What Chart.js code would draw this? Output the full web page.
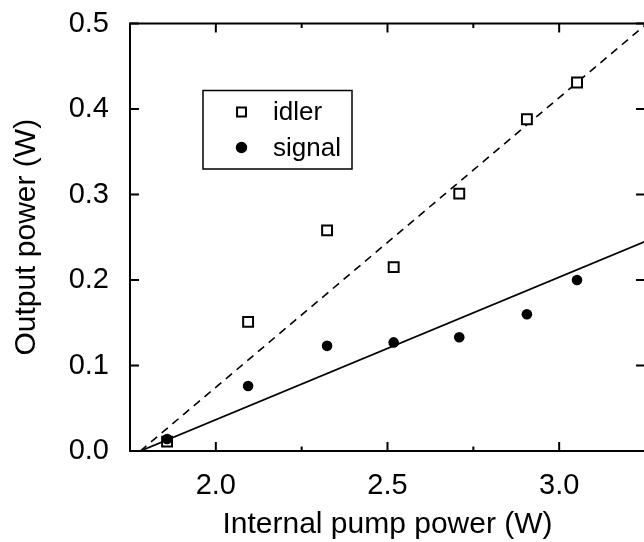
<!DOCTYPE html>
<html>
<head>
<meta charset="utf-8">
<script src="https://cdn.jsdelivr.net/npm/chart.js@4/dist/chart.umd.min.js"></script>
<style>
  html, body { margin: 0; padding: 0; background: #fff; width: 644px; height: 542px; overflow: hidden; }
  #wrap { width: 654px; height: 542px; }
</style>
</head>
<body>
<div id="wrap"><canvas id="pumpChart" width="654" height="542"></canvas></div>
<script>
  // measured points
  const pumpPower = [1.858, 2.094, 2.324, 2.518, 2.709, 2.906, 3.052];
  const idlerPower = [0.011, 0.151, 0.258, 0.215, 0.301, 0.388, 0.431];
  const signalPower = [0.014, 0.076, 0.123, 0.127, 0.133, 0.160, 0.200];

  // linear fits (end points)
  const fitX = [1.78, 3.25];
  const idlerFit = [0, 0.498];
  const signalFit = [0, 0.245];

  const xRange = [1.75, 3.25];
  const yRange = [0, 0.5];

  const FONT = "'Liberation Sans', Arial, Helvetica, sans-serif";
  const toXY = (xs, ys) => xs.map((x, i) => ({ x: x, y: ys[i] }));

  // no extra room for the end labels, the frame sits where it is told
  const noPad = scale => {
    scale.paddingTop = 0; scale.paddingBottom = 0;
    scale.paddingLeft = 0; scale.paddingRight = 0;
  };

  // box frame + inward ticks on all four sides
  const frameTicks = {
    id: "frameTicks",
    afterDraw(chart) {
      const { ctx, chartArea: a, scales } = chart;
      ctx.save();
      ctx.strokeStyle = "#000";
      ctx.lineWidth = 2;
      ctx.strokeRect(a.left, a.top, a.right - a.left, a.bottom - a.top);
      ctx.beginPath();
      scales.x.ticks.forEach(t => {
        const px = scales.x.getPixelForValue(t.value);
        const major = Math.abs(t.value * 2 - Math.round(t.value * 2)) < 1e-6;
        const len = major ? 9 : 4.5;
        ctx.moveTo(px, a.bottom); ctx.lineTo(px, a.bottom - len);
        ctx.moveTo(px, a.top); ctx.lineTo(px, a.top + len);
      });
      scales.y.ticks.forEach(t => {
        const py = scales.y.getPixelForValue(t.value);
        ctx.moveTo(a.left, py); ctx.lineTo(a.left + 9, py);
        ctx.moveTo(a.right, py); ctx.lineTo(a.right - 9, py);
      });
      ctx.stroke();
      ctx.restore();
    }
  };

  // boxed legend inside the plot
  const boxLegend = {
    id: "boxLegend",
    afterDraw(chart) {
      const { ctx, chartArea: a } = chart;
      const x0 = a.left + 73, y0 = a.top + 67;
      ctx.save();
      ctx.strokeStyle = "#000";
      ctx.lineWidth = 1.5;
      ctx.strokeRect(x0, y0, 149, 78.5);
      const items = chart.data.datasets.filter(d => d.inLegend);
      items.forEach((d, i) => {
        const cy = y0 + 21.5 + i * 35.5;
        ctx.fillStyle = d.backgroundColor;
        ctx.strokeStyle = d.borderColor;
        ctx.lineWidth = d.pointBorderWidth || 1.5;
        Chart.helpers.drawPoint(ctx, {
          pointStyle: d.pointStyle,
          radius: d.legendRadius,
          borderWidth: d.pointBorderWidth || 1.5
        }, x0 + 38.5, cy);
        ctx.fillStyle = "#000";
        ctx.font = "26px " + FONT;
        ctx.textAlign = "left";
        ctx.textBaseline = "middle";
        ctx.fillText(d.label, x0 + 70, cy + 1);
      });
      ctx.restore();
    }
  };

  new Chart(document.getElementById("pumpChart").getContext("2d"), {
    type: "scatter",
    data: {
      datasets: [
        {
          label: "idler",
          inLegend: true,
          data: toXY(pumpPower, idlerPower),
          pointStyle: "rect",
          pointRadius: 7,
          legendRadius: 6.3,
          pointBorderWidth: 2,
          backgroundColor: "#fff",
          borderColor: "#000",
          order: 1
        },
        {
          label: "signal",
          inLegend: true,
          data: toXY(pumpPower, signalPower),
          pointStyle: "circle",
          pointRadius: 5.3,
          legendRadius: 5,
          pointBorderWidth: 0,
          backgroundColor: "#000",
          borderColor: "#000",
          order: 0
        },
        {
          label: "idler fit",
          data: toXY(fitX, idlerFit),
          showLine: true,
          borderColor: "#000",
          borderWidth: 1.6,
          borderDash: [8, 6],
          pointRadius: 0,
          order: 2
        },
        {
          label: "signal fit",
          data: toXY(fitX, signalFit),
          showLine: true,
          borderColor: "#000",
          borderWidth: 1.8,
          pointRadius: 0,
          order: 2
        }
      ]
    },
    options: {
      responsive: false,
      animation: false,
      devicePixelRatio: 1,
      layout: { padding: { top: 23.5, right: 1, bottom: 0, left: 0 } },
      plugins: {
        legend: { display: false },
        tooltip: { enabled: false }
      },
      scales: {
        x: {
          type: "linear",
          min: xRange[0],
          max: xRange[1],
          border: { display: false },
          grid: { display: false, drawTicks: false },
          afterFit(scale) { scale.height = 91; noPad(scale); },
          ticks: {
            stepSize: 0.25,
            autoSkip: false,
            padding: 18,
            color: "#000",
            font: { family: FONT, size: 29 },
            callback: v => (Math.abs(v * 2 - Math.round(v * 2)) < 1e-6 && v > 1.9 && v < 3.1) ? v.toFixed(1) : ""
          },
          title: {
            display: true,
            text: "Internal pump power (W)",
            color: "#000",
            font: { family: FONT, size: 30, lineHeight: 1.1 },
            padding: { top: 0, bottom: 1 }
          }
        },
        y: {
          type: "linear",
          min: yRange[0],
          max: yRange[1],
          border: { display: false },
          grid: { display: false, drawTicks: false },
          afterFit(scale) { scale.width = 130; noPad(scale); },
          ticks: {
            stepSize: 0.1,
            padding: 21,
            color: "#000",
            font: { family: FONT, size: 29 },
            callback: v => v.toFixed(1)
          },
          title: {
            display: true,
            text: "Output power (W)",
            color: "#000",
            font: { family: FONT, size: 30, lineHeight: 1.1 },
            padding: { top: 10, bottom: 0 }
          }
        }
      }
    },
    plugins: [frameTicks, boxLegend]
  });
</script>
</body>
</html>
